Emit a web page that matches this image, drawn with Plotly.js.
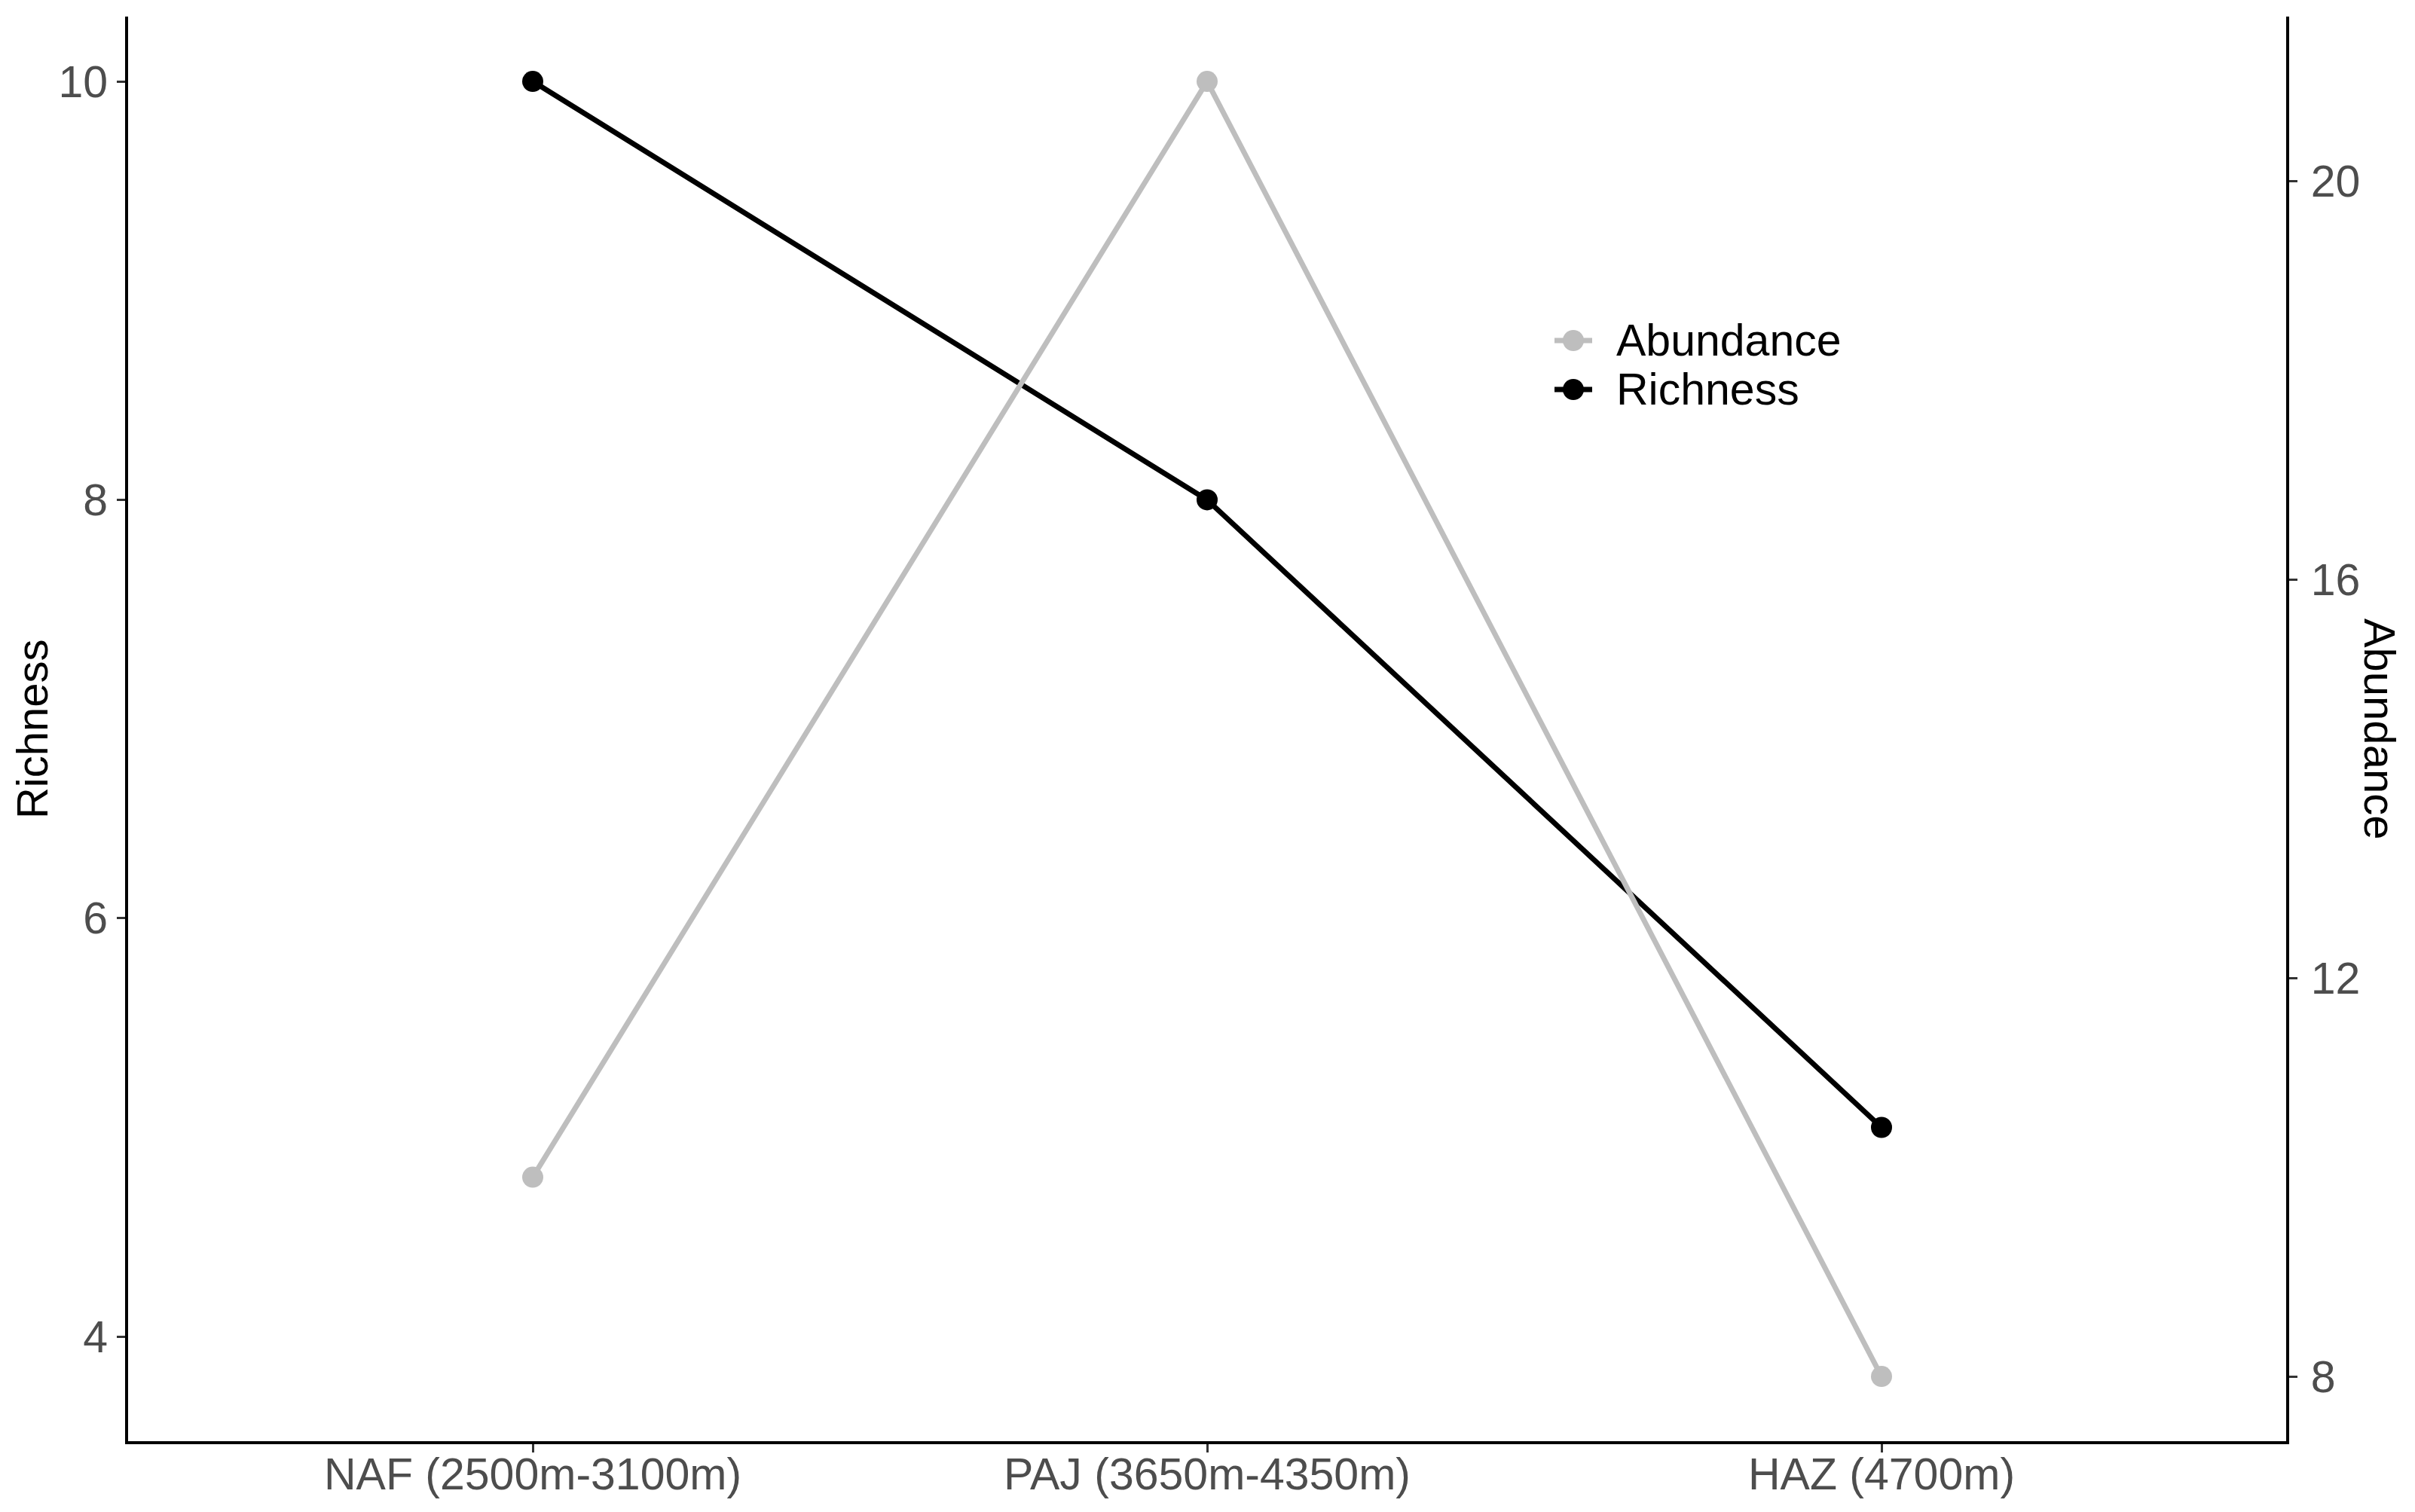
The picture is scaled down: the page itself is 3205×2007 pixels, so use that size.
<!DOCTYPE html>
<html>
<head>
<meta charset="utf-8">
<script src="https://cdn.plot.ly/plotly-3.0.1.min.js"></script>
<style>
  html, body { margin: 0; padding: 0; background: #fff; }
  #plot { width: 3205px; height: 2007px; }
</style>
</head>
<body>
<div id="plot"></div>
<script>
// Sites along the elevation gradient
const sites = ['NAF (2500m-3100m)', 'PAJ (3650m-4350m)', 'HAZ (4700m)'];

// Values
const richness = [10, 8, 5];
const abundance = [10, 21, 8];

// Secondary axis is abundance = richness * 2.1
const scaleFactor = 2.1;
const richnessRange = [3.5, 10.31];
const abundanceRange = richnessRange.map(v => v * scaleFactor);

const fontFamily = '"Liberation Sans", Arial, Helvetica, sans-serif';
const tickFont = { family: fontFamily, size: 59, color: '#4D4D4D' };

const W = 3205, H = 2007;
const margin = { l: 170, r: 171, t: 22, b: 94 };

const lineWidth = 7;
const markerSize = 28;

const abundanceTrace = {
    x: sites,
    y: abundance,
    type: 'scatter',
    mode: 'lines+markers',
    name: 'Abundance',
    yaxis: 'y2',
    line: { color: '#BEBEBE', width: lineWidth },
    marker: { color: '#BEBEBE', size: markerSize }
};

const richnessTrace = {
    x: sites,
    y: richness,
    type: 'scatter',
    mode: 'lines+markers',
    name: 'Richness',
    line: { color: '#000000', width: lineWidth },
    marker: { color: '#000000', size: markerSize }
};

const traces = [abundanceTrace, richnessTrace];

// pixel -> paper helpers (for the hand made legend)
function px2x(px) { return (px - margin.l) / (W - margin.l - margin.r); }
function px2y(py) { return (H - margin.b - py) / (H - margin.t - margin.b); }

// Legend drawn by hand so the keys can be as large as in the original
const legendKeyX = 2088, legendTextX = 2143;
const legendRowsY = [452, 517];
const shapes = [];
const annotations = [];

traces.forEach((tr, i) => {
    const yy = px2y(legendRowsY[i]);
    shapes.push({
        type: 'line', xref: 'paper', yref: 'paper',
        x0: px2x(legendKeyX - 25), x1: px2x(legendKeyX + 25), y0: yy, y1: yy,
        line: { color: tr.line.color, width: lineWidth }
    });
    shapes.push({
        type: 'circle', xref: 'paper', yref: 'paper',
        xsizemode: 'pixel', ysizemode: 'pixel',
        xanchor: px2x(legendKeyX), yanchor: yy,
        x0: -markerSize / 2, x1: markerSize / 2, y0: -markerSize / 2, y1: markerSize / 2,
        fillcolor: tr.marker.color, line: { width: 0 }
    });
    annotations.push({
        text: tr.name, xref: 'paper', yref: 'paper',
        x: px2x(legendTextX), y: yy,
        xanchor: 'left', yanchor: 'middle', showarrow: false,
        font: { family: fontFamily, size: 59, color: '#000000' }
    });
});

// Axis titles
annotations.push({
    text: 'Richness',
    xref: 'paper', yref: 'paper',
    x: -0.0445, y: 0.5,
    xanchor: 'center', yanchor: 'middle',
    textangle: -90,
    showarrow: false,
    font: { family: fontFamily, size: 58, color: '#000000' }
});
annotations.push({
    text: 'Abundance',
    xref: 'paper', yref: 'paper',
    x: 1.0435, y: 0.5,
    xanchor: 'center', yanchor: 'middle',
    textangle: 90,
    showarrow: false,
    font: { family: fontFamily, size: 58, color: '#000000' }
});

const axisLine = {
    showline: true,
    linecolor: '#000000',
    linewidth: 4,
    ticks: 'outside',
    ticklen: 11,
    tickwidth: 3,
    tickcolor: '#333333',
    showgrid: false,
    zeroline: false,
    tickfont: tickFont
};

const layout = {
    width: W,
    height: H,
    margin: margin,
    paper_bgcolor: '#ffffff',
    plot_bgcolor: '#ffffff',
    font: { family: fontFamily, color: '#000000' },
    showlegend: false,
    xaxis: Object.assign({}, axisLine, {
        type: 'category',
        range: [-0.6, 2.6],
        ticklabelstandoff: -22
    }),
    yaxis: Object.assign({}, axisLine, {
        range: richnessRange,
        tickvals: [4, 6, 8, 10],
        ticklabelstandoff: 0
    }),
    yaxis2: Object.assign({}, axisLine, {
        overlaying: 'y',
        side: 'right',
        range: abundanceRange,
        tickvals: [8, 12, 16, 20],
        ticklabelstandoff: 6
    }),
    shapes: shapes,
    annotations: annotations
};

Plotly.newPlot('plot', traces, layout, { displayModeBar: false, staticPlot: true });
</script>
</body>
</html>
